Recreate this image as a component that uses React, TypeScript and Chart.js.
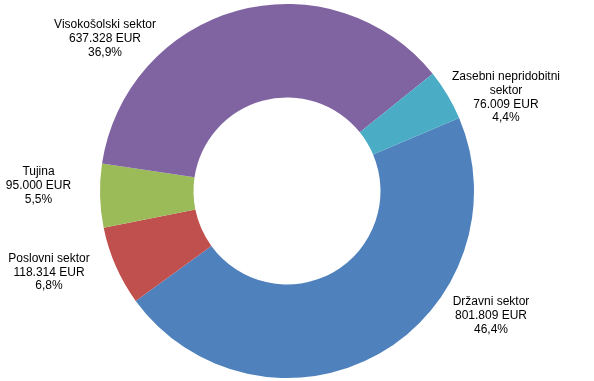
import React, { useEffect, useRef } from "react";
import { Chart, registerables } from "chart.js";

Chart.register(...registerables);

const categories = [
  "Državni sektor",
  "Poslovni sektor",
  "Tujina",
  "Visokošolski sektor",
  "Zasebni nepridobitni\nsektor",
];
const values = [801809, 118314, 95000, 637328, 76009];
const colors = ["#4F81BD", "#C0504D", "#9BBB59", "#8064A2", "#4BACC6"];

// label anchor (centre x, first baseline y) relative to chart centre, in px
const labelOffsets: [number, number][] = [
  [204, 114],
  [-238, 70.7],
  [-248.5, -16],
  [-182, -162.7],
  [219, -111],
];

const fmtThousands = (v: number) =>
  String(v).replace(/\B(?=(\d{3})+(?!\d))/g, ".");

const labelPlugin = {
  id: "outerLabels",
  afterDraw(chart: any) {
    const ctx = chart.ctx;
    const meta = chart.getDatasetMeta(0);
    const data = chart.data.datasets[0].data as number[];
    const total = data.reduce((a, b) => a + b, 0);
    const arc0 = meta.data[0];
    if (!arc0) return;
    const cx = arc0.x;
    const cy = arc0.y;
    ctx.save();
    ctx.font = '12px "Liberation Sans", Arial, sans-serif';
    ctx.fillStyle = "#000";
    ctx.textAlign = "center";
    ctx.textBaseline = "alphabetic";
    const lh = 13.8;
    data.forEach((v, i) => {
      const lines = [
        ...String(chart.data.labels[i]).split("\n"),
        fmtThousands(v) + " EUR",
        ((v / total) * 100).toFixed(1).replace(".", ",") + "%",
      ];
      const [ox, oy] = labelOffsets[i];
      lines.forEach((t, j) => {
        ctx.fillText(t, cx + ox, cy + oy + j * lh);
      });
    });
    ctx.restore();
  },
};

export default function App() {
  const ref = useRef<HTMLCanvasElement>(null);
  useEffect(() => {
    if (!ref.current) return;
    const chart = new Chart(ref.current, {
      type: "doughnut",
      data: {
        labels: categories,
        datasets: [
          {
            data: values,
            backgroundColor: colors,
            borderWidth: 0,
          },
        ],
      },
      options: {
        animation: false,
        responsive: true,
        maintainAspectRatio: false,
        rotation: 67,
        cutout: "50%",
        layout: { padding: { top: 4, bottom: 3, left: 0, right: 20 } },
        plugins: {
          legend: { display: false },
          tooltip: { enabled: false },
          title: { display: false },
        },
      },
      plugins: [labelPlugin],
    });
    return () => chart.destroy();
  }, []);
  return (
    <div
      style={{
        position: "fixed",
        left: 0,
        top: 0,
        width: 594,
        height: 381,
        background: "#fff",
      }}
    >
      <canvas ref={ref} />
    </div>
  );
}
